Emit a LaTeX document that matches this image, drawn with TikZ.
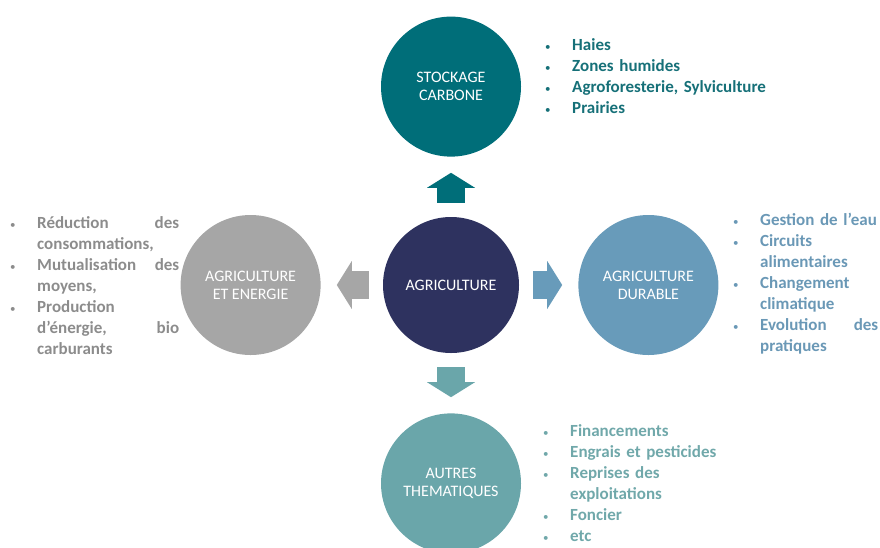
\documentclass[tikz,border=0pt]{standalone}
\usepackage{fontspec}
\setmainfont{Carlito}
\usetikzlibrary{positioning, arrows.meta}
\definecolor{tealc}{RGB}{0,110,121}
\definecolor{tealt}{RGB}{22,112,120}
\definecolor{navy}{RGB}{46,50,95}
\definecolor{grayc}{RGB}{166,166,166}
\definecolor{grayt}{RGB}{140,140,140}
\definecolor{bluec}{RGB}{104,155,186}
\definecolor{bluet}{RGB}{106,152,182}
\definecolor{aquac}{RGB}{106,166,170}
\definecolor{aquat}{RGB}{112,168,170}
\newcommand{\itm}{\par\hangindent=28pt\hangafter=1\noindent
  \makebox[28pt][l]{\hspace{1pt}\mdseries\fontsize{11}{11}\selectfont\textbullet}}
\newcommand{\nl}{\hfil\break}

\begin{document}
\begin{tikzpicture}[x=1pt, y=-1pt,
          circ/.style={circle, inner sep=0pt, minimum size=140pt, align=center,
            text=white, font=\fontsize{16}{18}\selectfont},
          lst/.style={anchor=base west, inner sep=0pt, text width=#1,
            font=\bfseries\fontsize{17}{21}\selectfont},
          blk/.style={line width=28pt, -{Triangle[length=15pt, width=48pt, line width=0pt]},
            shorten <=14pt, shorten >=16pt}]
        \useasboundingbox (0,0) rectangle (880,547);
        \node[circ, minimum size=136pt, fill=navy] (agri) at (451,285) {AGRICULTURE};
        \node[circ, fill=tealc, above=60pt of agri] (stock) {STOCKAGE\\CARBONE};
        \node[circ, fill=grayc, left=62pt of agri] (energ) {AGRICULTURE\\ET ENERGIE};
        \node[circ, fill=bluec, right=59pt of agri] (durab) {AGRICULTURE\\DURABLE};
        \node[circ, fill=aquac, below=60pt of agri] (autre) {AUTRES\\THEMATIQUES};
        % block arrows
        \draw[blk, color=tealc] (agri) -- (stock);
        \draw[blk, color=grayc] (agri) -- (energ);
        \draw[blk, color=bluec] (agri) -- (durab);
        \draw[blk, color=aquac] (agri) -- (autre);
        % lists
        \node[lst=250pt, text=tealt] (lstock) at (544,29.5)
          {\itm Haies \itm Zones humides \itm Agroforesterie, Sylviculture \itm Prairies\par};
        \node[lst=170pt, text=grayt] (lenerg) at (9,207.5)
          {\itm Réduction \hfill des\break consommations, \itm Mutualisation \hfill des\break moyens,
           \itm Production\nl d’énergie, \hfill bio\break carburants\par};
        \node[lst=146pt, text=bluet] (ldurab) at (732,204.5)
          {\itm Gestion de l’eau \itm Circuits\nl alimentaires \itm Changement\nl climatique
           \itm Evolution \hfill des\break pratiques\par};
        \node[lst=220pt, text=aquat] (lautre) at (542,415.5)
          {\itm Financements \itm Engrais et pesticides \itm Reprises des\nl exploitations
           \itm Foncier \itm etc\par};
\end{tikzpicture}
\end{document}
